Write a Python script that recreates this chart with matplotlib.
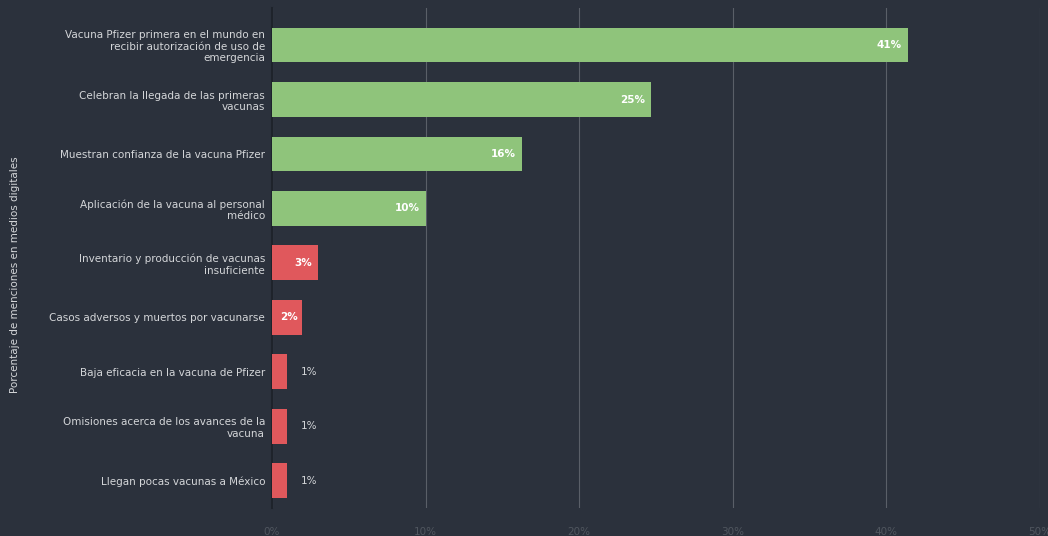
import matplotlib
matplotlib.use("Agg")
import matplotlib.pyplot as plt

# Datos
categorias = [
    "Vacuna Pfizer primera en el mundo en\nrecibir autorización de uso de\nemergencia",
    "Celebran la llegada de las primeras\nvacunas",
    "Muestran confianza de la vacuna Pfizer",
    "Aplicación de la vacuna al personal\nmédico",
    "Inventario y producción de vacunas\ninsuficiente",
    "Casos adversos y muertos por vacunarse",
    "Baja eficacia en la vacuna de Pfizer",
    "Omisiones acerca de los avances de la\nvacuna",
    "Llegan pocas vacunas a México",
]
valores = [41.4, 24.7, 16.3, 10.0, 3.0, 1.95, 0.98, 0.98, 0.98]
etiquetas = ["41%", "25%", "16%", "10%", "3%", "2%", "1%", "1%", "1%"]
positivo = [True, True, True, True, False, False, False, False, False]
ticks = [0, 10, 20, 30, 40, 50]

fondo = "#2b313c"
verde = "#8fc47b"
rojo = "#e0585c"
texto = "#d4d6d9"

fig = plt.figure(figsize=(10.48, 5.36), dpi=100, facecolor=fondo)
ax = fig.add_axes([272 / 1048, 1 - 508 / 536, (1040 - 272) / 1048, 500 / 536])
ax.set_facecolor(fondo)

y = list(range(len(categorias)))
colores = [verde if p else rojo for p in positivo]
ax.barh(y, valores, height=0.64, color=colores, zorder=3)

for i, (v, lab) in enumerate(zip(valores, etiquetas)):
    if v >= 2.5:
        ax.text(v - 0.4, i, lab, ha="right", va="center", color="white",
                fontsize=7.5, fontweight="bold", zorder=4)
    elif v >= 1.5:
        ax.text(v / 2 + 0.1, i, lab, ha="center", va="center", color="white",
                fontsize=7.5, fontweight="bold", zorder=4)
    else:
        ax.text(v + 0.9, i, lab, ha="left", va="center", color=texto,
                fontsize=7.5, zorder=4)

ax.set_xlim(0, 50)
ax.set_ylim(len(categorias) - 0.5, -0.68)
ax.set_yticks(y)
ax.set_yticklabels(categorias, fontsize=7.5, color=texto, linespacing=1.2)
ax.set_xticks(ticks)
ax.set_xticklabels([f"{t}%" for t in ticks], fontsize=7.5, color="#50565f")
ax.tick_params(axis="both", length=0)
ax.tick_params(axis="y", pad=5)
ax.tick_params(axis="x", pad=14)

ax.grid(axis="x", color="#5a5f68", linewidth=0.8, zorder=0)
for s in ["top", "right", "bottom"]:
    ax.spines[s].set_visible(False)
ax.spines["left"].set_color("#1e232b")
ax.spines["left"].set_linewidth(1.5)

fig.text(15 / 1048, 1 - 275 / 536, "Porcentaje de menciones en medios digitales",
         rotation=90, ha="center", va="center", color=texto, fontsize=7.5)

fig.savefig("out.png", dpi=100, facecolor=fondo)
